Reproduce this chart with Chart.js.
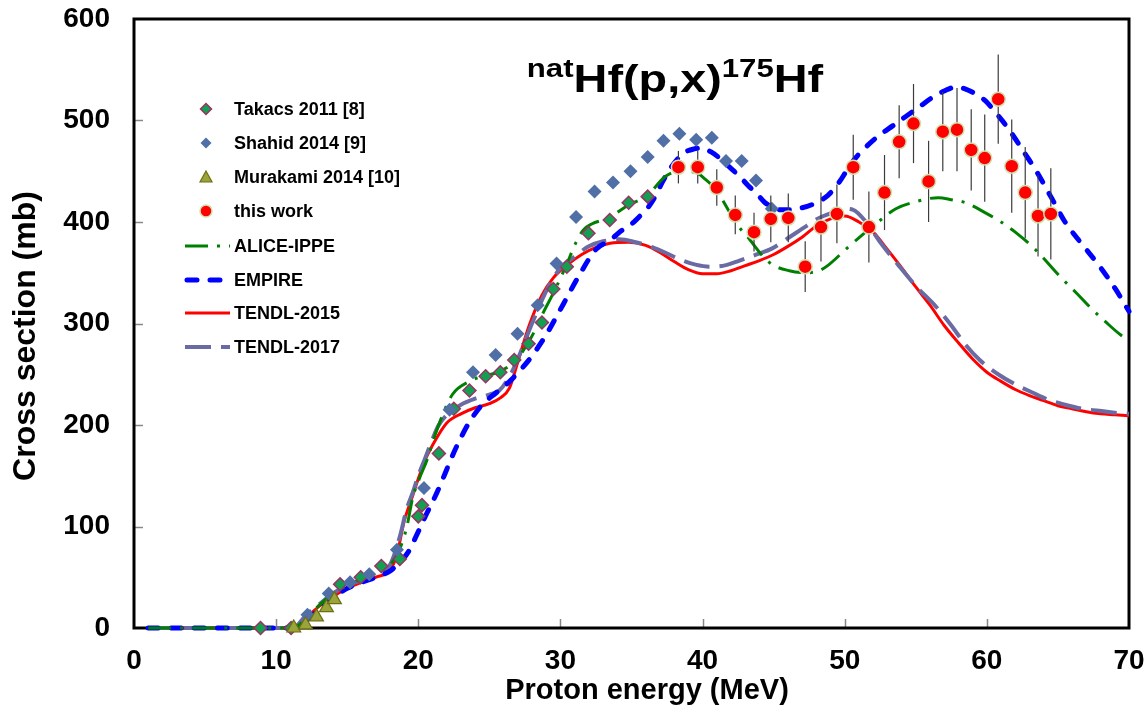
<!DOCTYPE html>
<html>
<head>
<meta charset="utf-8">
<script src="https://cdn.jsdelivr.net/npm/chart.js@4/dist/chart.umd.min.js"></script>
<style>
  html, body { margin: 0; padding: 0; background: #fff; }
  #wrap { width: 1148px; height: 711px; }
</style>
</head>
<body>
<div id="wrap"><canvas id="chart"></canvas></div>
<script>
// natHf(p,x)175Hf excitation function
// experimental points
const takacsE = [8.9, 11.05, 14.5, 15.95, 17.4, 18.7, 20.0, 20.26, 21.45, 22.5, 23.6, 24.74, 25.77, 26.75, 27.76, 28.7, 29.5, 30.45, 31.97, 33.47, 34.8, 36.14];
const takacsXs = [0, 0, 43, 50, 61, 68, 110, 121, 172, 216, 234, 248, 252, 264, 280, 301, 334, 356, 389, 402, 419, 425];

const shahidE = [12.2, 13.7, 15.2, 16.55, 18.5, 20.4, 22.2, 23.85, 25.44, 26.98, 28.4, 29.73, 31.1, 32.4, 33.7, 34.93, 36.14, 37.25, 38.37, 39.55, 40.65, 41.65, 42.75, 43.76, 44.87];
const shahidXs = [13, 34, 45, 53, 77, 138, 215, 252, 269, 290, 318, 359, 405, 430, 439, 450, 464, 480, 487, 481, 483, 460, 460, 441, 413];

const murakamiE = [11.24, 12.07, 12.84, 13.54, 14.1];
const murakamiXs = [0, 3, 11, 20, 28];

const workE = [38.3, 39.66, 41.0, 42.3, 43.62, 44.8, 46.03, 47.22, 48.33, 49.45, 50.6, 51.7, 52.8, 53.83, 54.84, 55.9, 56.9, 57.9, 58.9, 59.85, 60.8, 61.75, 62.7, 63.6, 64.5];
const workXs = [454, 454, 434, 407, 390, 403, 404, 356, 395, 408, 454, 395, 429, 479, 497, 440, 489, 491, 471, 463, 521, 455, 429, 406, 408];
const workErr = [16, 16, 18, 19, 19, 23, 24, 25, 34, 29, 32, 35, 37, 36, 39, 40, 39, 41, 40, 43, 44, 46, 45, 40, 45];

// model calculations
const aliceE = [1, 5, 10, 11, 11.5, 12, 13, 14, 15, 16, 17, 18, 18.7, 19.2, 19.6, 20.1, 20.6, 21.3, 22.4, 23.6, 24.5, 25.4, 26.4, 27, 27.6, 28.2, 28.8, 29.5, 30.4, 31.1, 31.6, 32.2, 33.4, 34.7, 36.1, 37.4, 38.4, 39.5, 40.2, 40.8, 41.3, 41.8, 42.4, 43.3, 44.2, 44.9, 46.1, 47.3, 48.2, 48.8, 50.3, 52, 53.6, 55, 56.6, 57.5, 58.5, 59.9, 61, 62, 63.4, 65.1, 66.3, 67.4, 68.4, 69.3, 70];
const aliceXs = [0, 0, 0, 0, 2, 8, 22, 34, 42, 48, 54, 62, 78, 100, 128, 148, 165, 195, 230, 243, 248, 251, 258, 266, 278, 293, 311, 330, 357, 380, 392, 398, 404, 416, 426, 445, 450, 449, 442, 434, 424, 412, 398, 383, 367, 358, 352, 350, 352, 357, 376, 396, 413, 420, 424, 422, 419, 409, 400, 390, 373, 347, 330, 314, 301, 290, 283];

const empireE = [1, 5, 10, 11, 11.5, 12, 13, 14, 15, 16, 17, 18, 18.5, 19.3, 20, 20.6, 21.2, 21.7, 22.2, 22.7, 23.6, 24.5, 25.5, 26.5, 27.3, 28, 29, 30.2, 31.3, 32.5, 33.5, 34.15, 35, 35.6, 36.2, 36.7, 37.2, 37.7, 38.3, 38.8, 39.4, 40, 40.6, 41.2, 41.9, 42.6, 43.2, 43.8, 44.4, 44.9, 45.5, 46.1, 47, 48, 48.8, 49.6, 50.2, 50.7, 51.5, 52.4, 53.4, 54.3, 55.3, 56.2, 57, 57.8, 58.5, 59.45, 60, 60.6, 61.3, 62, 62.7, 63.4, 64.5, 65.5, 66.7, 67.9, 69, 70];
const empireXs = [0, 0, 0, 0, 1, 6, 18, 30, 39, 45, 50, 56, 62, 75, 95, 113, 130, 146, 163, 179, 203, 220, 232, 244, 256, 268, 289, 319, 347, 373, 382, 390, 398, 406, 415, 426, 440, 452, 463, 469, 472, 473, 469, 463, 454, 445, 436, 428, 419, 415, 412, 412, 414, 419, 426, 439, 452, 462, 474, 485, 495, 504, 514, 523, 529, 533, 531, 524, 518, 508, 496, 482, 467, 452, 425, 400, 378, 357, 335, 312];

const tendl15E = [1, 5, 10, 11, 11.5, 12, 12.5, 13, 14, 15, 16, 17, 18, 18.5, 19, 19.5, 20, 20.5, 21, 22, 23, 24, 25, 25.8, 26.4, 27, 27.8, 28.7, 29.5, 30.5, 31.5, 32.5, 33.5, 34.8, 36, 37, 38, 39, 40, 41, 42, 43, 44, 45, 46, 47, 48, 49, 50, 51, 52, 53, 54, 55, 56, 57, 58, 59, 60, 61, 62, 63, 64, 65, 66, 67, 68, 69, 70];
const tendl15Xs = [0, 0, 0, 0, 2, 9, 15, 21, 31, 39, 45, 50, 57, 72, 105, 126, 147, 166, 180, 202, 211, 217, 221, 227, 236, 262, 298, 328, 345, 358, 368, 375, 379, 380, 377, 370, 361, 353, 349, 349, 352, 357, 362, 368, 376, 385, 396, 403, 406, 400, 390, 373, 355, 336, 318, 298, 281, 265, 252, 243, 235, 229, 224, 219, 216, 213, 211, 210, 209];

const tendl17E = [1, 5, 10, 11, 11.5, 12, 13, 14, 15, 16, 17, 18, 18.7, 19.2, 19.6, 20, 20.45, 21, 21.4, 22, 23, 24, 25, 25.7, 26.5, 27, 28, 29, 29.9, 31, 32, 33, 34.15, 35.3, 36.5, 37.5, 38.4, 39.5, 40.5, 41.5, 42.6, 43.8, 44.9, 46, 47.3, 48.2, 49.1, 50, 50.6, 51.5, 52.5, 53.8, 55, 56.4, 57.5, 58.5, 59.5, 60.9, 62, 63.2, 64.3, 65.5, 66.7, 67.9, 69, 70];
const tendl17Xs = [0, 0, 0, 0, 3, 11, 23, 34, 42, 47, 52, 62, 90, 118, 133, 150, 166, 186, 199, 210, 220, 226, 230, 234, 250, 265, 300, 332, 353, 366, 376, 381, 383, 380, 375, 369, 363, 358, 356, 357, 362, 368, 374, 384, 396, 404, 409, 413, 412, 400, 380, 357, 337, 317, 298, 279, 264, 249, 240, 232, 225, 220, 216, 214, 212, 211];

const xTicks = [0, 10, 20, 30, 40, 50, 60, 70];
const yTicks = [0, 100, 200, 300, 400, 500, 600];

const pts = (xs, ys) => xs.map((x, i) => ({ x: x, y: ys[i] }));
const FONT = "'Liberation Sans', Arial, sans-serif";

// error bars for this work, drawn just before its circles
const errorBars = {
	id: "errorBars",
	beforeDatasetDraw(chart, args) {
		if (args.index !== 0) return;
		const { ctx, scales } = chart;
		ctx.save();
		ctx.strokeStyle = "#3c3c3c";
		ctx.lineWidth = 1.2;
		workE.forEach((e, i) => {
			const px = scales.x.getPixelForValue(e);
			ctx.beginPath();
			ctx.moveTo(px, scales.y.getPixelForValue(workXs[i] - workErr[i]));
			ctx.lineTo(px, scales.y.getPixelForValue(workXs[i] + workErr[i]));
			ctx.stroke();
		});
		ctx.restore();
	},
};

// frame + inside ticks
const frame = {
	id: "frame",
	beforeDatasetsDraw(chart) {
		const { ctx, chartArea: a, scales } = chart;
		ctx.save();
		ctx.strokeStyle = "#888";
		ctx.lineWidth = 1.5;
		yTicks.slice(1, -1).forEach((v) => {
			const py = Math.round(scales.y.getPixelForValue(v)) + 0.5;
			ctx.beginPath();
			ctx.moveTo(a.left, py);
			ctx.lineTo(a.left + 9, py);
			ctx.stroke();
		});
		xTicks.slice(1, -1).forEach((v) => {
			const px = Math.round(scales.x.getPixelForValue(v)) + 0.5;
			ctx.beginPath();
			ctx.moveTo(px, a.bottom);
			ctx.lineTo(px, a.bottom - 9);
			ctx.stroke();
		});
		ctx.strokeStyle = "#000";
		ctx.lineWidth = 3;
		ctx.strokeRect(a.left, a.top, a.right - a.left, a.bottom - a.top);
		ctx.restore();
	},
};

// title, axis titles, legend
const decorations = {
	id: "decorations",
	afterDraw(chart) {
		const ctx = chart.ctx;
		ctx.save();
		ctx.fillStyle = "#000";

		// title with superscripts (the original lettering is a bit wide)
		const big = "bold 39px " + FONT;
		const small = "bold 26px " + FONT;
		const stretch = 1.2;
		const parts = [
			["nat", small, -15],
			["Hf(p,x)", big, 0],
			["175", small, -15],
			["Hf", big, 0],
		];
		let total = 0;
		parts.forEach((p) => { ctx.font = p[1]; total += ctx.measureText(p[0]).width; });
		ctx.save();
		ctx.translate(675 - (total * stretch) / 2, 92);
		ctx.scale(stretch, 1);
		let tx = 0;
		ctx.textBaseline = "alphabetic";
		ctx.textAlign = "left";
		parts.forEach((p) => {
			ctx.font = p[1];
			ctx.fillText(p[0], tx, p[2]);
			tx += ctx.measureText(p[0]).width;
		});
		ctx.restore();

		// axis titles
		ctx.textAlign = "center";
		ctx.textBaseline = "middle";
		ctx.font = "bold 29px " + FONT;
		ctx.fillText("Proton energy (MeV)", 647, 691);
		ctx.save();
		ctx.translate(26, 336);
		ctx.rotate(-Math.PI / 2);
		ctx.font = "bold 32px " + FONT;
		ctx.fillText("Cross section (mb)", 0, 0);
		ctx.restore();

		// legend
		const rows = [109, 143, 177, 211, 246, 280, 313, 347];
		const mx = 206;
		ctx.font = "bold 18px " + FONT;
		ctx.textAlign = "left";
		const labels = ["Takacs 2011 [8]", "Shahid 2014 [9]", "Murakami 2014 [10]", "this work", "ALICE-IPPE", "EMPIRE", "TENDL-2015", "TENDL-2017"];
		labels.forEach((t, i) => ctx.fillText(t, 234, rows[i] + 1));

		const diamond = (x, y, r) => {
			ctx.beginPath();
			ctx.moveTo(x, y - r); ctx.lineTo(x + r, y); ctx.lineTo(x, y + r); ctx.lineTo(x - r, y); ctx.closePath();
		};
		diamond(mx, rows[0], 5.5);
		ctx.fillStyle = "#12a050"; ctx.fill();
		ctx.strokeStyle = "#993366"; ctx.lineWidth = 1.5; ctx.stroke();
		diamond(mx, rows[1], 5.5);
		ctx.fillStyle = "#4f6fa6"; ctx.fill();
		ctx.beginPath();
		ctx.moveTo(mx, rows[2] - 6); ctx.lineTo(mx + 6, rows[2] + 5); ctx.lineTo(mx - 6, rows[2] + 5); ctx.closePath();
		ctx.fillStyle = "#9aa43a"; ctx.fill();
		ctx.strokeStyle = "#6e6e10"; ctx.lineWidth = 1.2; ctx.stroke();
		ctx.beginPath();
		ctx.arc(mx, rows[3], 6, 0, Math.PI * 2);
		ctx.fillStyle = "#ff0000"; ctx.fill();
		ctx.strokeStyle = "#cfe0b0"; ctx.lineWidth = 1.5; ctx.stroke();

		const seg = (y, x1, x2, color, w, dash, cap) => {
			ctx.beginPath();
			ctx.setLineDash(dash);
			ctx.lineCap = cap || "butt";
			ctx.strokeStyle = color;
			ctx.lineWidth = w;
			ctx.moveTo(x1, y);
			ctx.lineTo(x2, y);
			ctx.stroke();
		};
		seg(rows[4], 185, 230, "#008000", 3, [23, 9, 3, 9]);
		seg(rows[5], 187, 229, "#0000ff", 5, [10, 13], "round");
		seg(rows[6], 185, 230, "#ff0000", 3, []);
		seg(rows[7], 185, 230, "#6b6ba3", 4, [26, 10]);
		ctx.restore();
	},
};

const lineSet = (label, xs, ys, color, width, dash, order, cap) => ({
	label: label,
	data: pts(xs, ys),
	showLine: true,
	borderColor: color,
	borderWidth: width,
	borderDash: dash,
	borderCapStyle: cap || "butt",
	cubicInterpolationMode: "monotone",
	pointRadius: 0,
	fill: false,
	clip: false,
	order: order,
});

new Chart(document.getElementById("chart"), {
	type: "scatter",
	data: {
		datasets: [
			{
				label: "this work",
				data: pts(workE, workXs),
				pointStyle: "circle",
				pointRadius: 7,
				backgroundColor: "#ff0000",
				borderColor: "#cfe0b0",
				borderWidth: 1.5,
				clip: false,
				order: 0,
			},
			{
				label: "Murakami 2014 [10]",
				data: pts(murakamiE, murakamiXs),
				pointStyle: "triangle",
				pointRadius: 8,
				backgroundColor: "#9aa43a",
				borderColor: "#6e6e10",
				borderWidth: 1.2,
				clip: false,
				order: 1,
			},
			{
				label: "Shahid 2014 [9]",
				data: pts(shahidE, shahidXs),
				pointStyle: "rectRot",
				pointRadius: 7,
				backgroundColor: "#4f6fa6",
				borderWidth: 0,
				clip: false,
				order: 2,
			},
			{
				label: "Takacs 2011 [8]",
				data: pts(takacsE, takacsXs),
				pointStyle: "rectRot",
				pointRadius: 6.5,
				backgroundColor: "#12a050",
				borderColor: "#993366",
				borderWidth: 1.5,
				clip: false,
				order: 3,
			},
			lineSet("ALICE-IPPE", aliceE, aliceXs, "#008000", 3, [23, 9, 3, 9], 4),
			lineSet("EMPIRE", empireE, empireXs, "#0000ff", 5, [10, 13], 5, "round"),
			lineSet("TENDL-2017", tendl17E, tendl17Xs, "#6b6ba3", 4, [26, 10], 6),
			lineSet("TENDL-2015", tendl15E, tendl15Xs, "#ff0000", 3, [], 7),
		],
	},
	options: {
		responsive: true,
		maintainAspectRatio: false,
		animation: false,
		devicePixelRatio: 1,
		layout: { padding: { top: 19, right: 19, left: 0, bottom: 0 } },
		plugins: {
			legend: { display: false },
			tooltip: { enabled: false },
		},
		scales: {
			x: {
				type: "linear",
				min: 0,
				max: 70,
				afterFit: (s) => { s.height = 83; s.paddingLeft = 0; s.paddingRight = 0; },
				afterBuildTicks: (s) => { s.ticks = xTicks.map((v) => ({ value: v })); },
				grid: { display: false, drawTicks: false },
				border: { display: false },
				ticks: {
					color: "#000",
					padding: 16,
					maxRotation: 0,
					autoSkip: false,
					font: { family: FONT, size: 28, weight: "bold" },
				},
			},
			y: {
				type: "linear",
				min: 0,
				max: 600,
				afterFit: (s) => { s.width = 134; s.paddingTop = 0; s.paddingBottom = 0; },
				afterBuildTicks: (s) => { s.ticks = yTicks.map((v) => ({ value: v })); },
				grid: { display: false, drawTicks: false },
				border: { display: false },
				ticks: {
					color: "#000",
					padding: 24,
					autoSkip: false,
					font: { family: FONT, size: 28, weight: "bold" },
				},
			},
		},
	},
	plugins: [frame, errorBars, decorations],
});
</script>
</body>
</html>
